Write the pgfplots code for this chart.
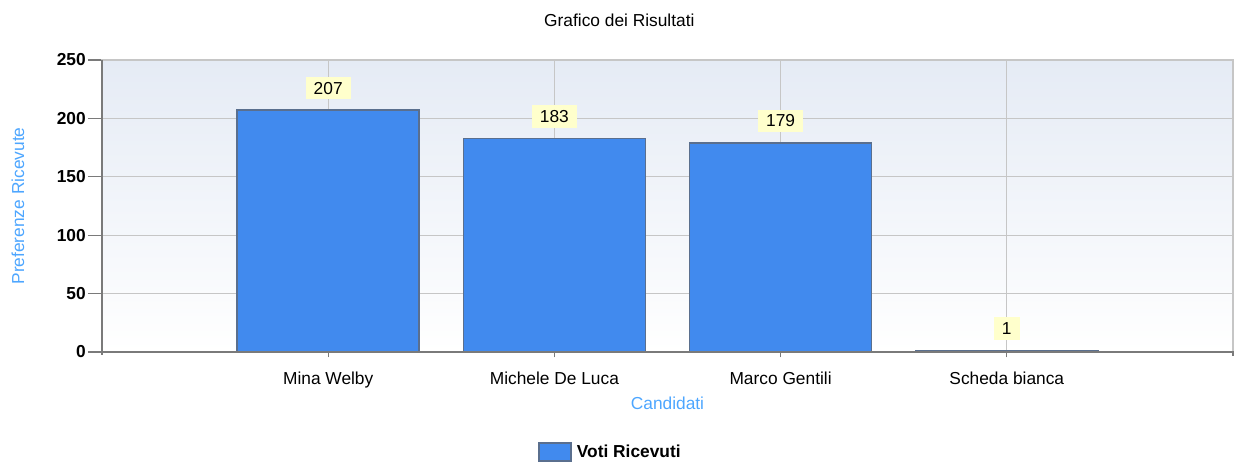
\documentclass[border=0pt]{standalone}
\usepackage{fontspec}
\setmainfont{Liberation Sans}
\usepackage{pgfplots}
\pgfplotsset{compat=1.18}
\definecolor{barblue}{HTML}{418AEE}
\definecolor{baredge}{HTML}{5A6F8E}
\definecolor{labblue}{HTML}{4DA6FF}
\definecolor{bgtop}{HTML}{E5EBF5}
\definecolor{gridgray}{HTML}{C6C6C6}
\definecolor{lblfill}{HTML}{FFFFCC}
\definecolor{axisdark}{HTML}{7A7A7A}
\begin{document}
\begin{tikzpicture}[font=\fontsize{13}{15.6}\selectfont]
\path[use as bounding box] (-76.5pt,-85.5pt) rectangle (850.5pt,264pt);
\node at (388pt,249pt) {Grafico dei Risultati};
\begin{axis}[
  scale only axis, width=848.25pt, height=219pt,
  at={(0,0)}, anchor=south west,
  xmin=0, xmax=5, ymin=0, ymax=250,
  ytick={0,50,...,250},
  xtick={1,2,3,4},
  xticklabels={Mina Welby, Michele De Luca, Marco Gentili, Scheda bianca},
  xtick pos=bottom, ytick pos=left,
  /pgf/number format/assume math mode=true,
  yticklabel style={font=\fontsize{13}{15.6}\selectfont\bfseries, inner xsep=1.5pt},
  xticklabel style={font=\fontsize{13}{15.6}\selectfont, yshift=-1pt},
  tick align=outside,
  major tick length=10.5pt,
  xtick style={draw=axisdark, line width=0.9pt, /pgfplots/major tick length=4pt},
  ytick style={draw=axisdark, line width=0.9pt},
  grid=major,
  major grid style={draw=gridgray, line width=0.8pt},
  axis line style={draw=gridgray, line width=0.8pt},
  axis background/.style={top color=bgtop, bottom color=white},
  ylabel={Preferenze Ricevute},
  ylabel style={at={(axis description cs:-0.0743,0.5)}, anchor=center, rotate=0, color=labblue},
  xlabel={Candidati},
  xlabel style={at={(axis description cs:0.5,-0.1747)}, anchor=center, color=labblue},
  ybar, bar width=136.5pt,
  nodes near coords,
  every node near coord/.append style={anchor=south, yshift=7.5pt, fill=lblfill,
     inner xsep=6pt, inner ysep=2pt, minimum height=17pt, text=black,
     font=\fontsize{13}{15.6}\selectfont},
  legend style={at={(axis description cs:0.451,-0.342)}, anchor=center, draw=none, fill=none,
     font=\fontsize{13}{15.6}\selectfont\bfseries,
     nodes={inner xsep=4pt}},
  legend image code/.code={\draw[#1] (0pt,-6.75pt) rectangle (24pt,6.75pt);},
  clip=false,
]
\addplot[fill=barblue, draw=baredge, line width=1.1pt] coordinates {(1,207) (2,183) (3,179) (4,1)};
\addlegendentry{Voti Ricevuti}
\draw[axisdark, line width=1.2pt] (rel axis cs:0,1) -- (rel axis cs:0,-0.01) (rel axis cs:0,0) -- (rel axis cs:1,0) -- (rel axis cs:1,-0.015);
\end{axis}
\end{tikzpicture}
\end{document}
